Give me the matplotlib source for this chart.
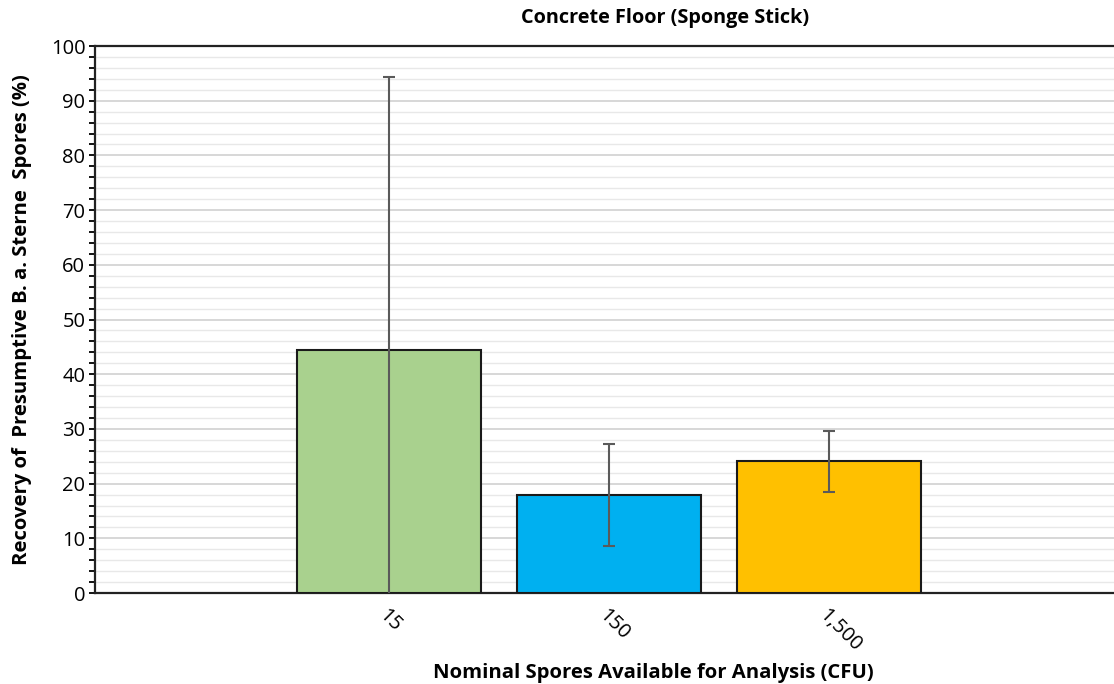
import numpy as np
import matplotlib
matplotlib.use('Agg')
import matplotlib.pyplot as plt
from matplotlib.ticker import MultipleLocator

# values
labels = ['15', '150', '1,500']
recovery = [44.4, 17.9, 24.1]
errors = [49.9, 9.3, 5.6]
colors = ['#A9D18E', '#00B0F0', '#FFC000']

plt.rcParams['font.family'] = ['Open Sans', 'DejaVu Sans']

fig = plt.figure(figsize=(11.14, 6.84), dpi=100)
ax = fig.add_axes([0.0853, 0.133, 0.9147, 0.7997])

x = np.arange(len(labels))
ax.bar(x, recovery, width=0.836, color=colors, edgecolor='#1a1a1a', linewidth=1.5, zorder=3)
ax.errorbar(x, recovery, yerr=errors, fmt='none', ecolor='#5a5a5a', elinewidth=1.5,
            capsize=4, capthick=1.5, zorder=4)

ax.set_ylim(0, 100)
ax.set_xlim(-1.336, 3.295)
ax.yaxis.set_major_locator(MultipleLocator(10))
ax.yaxis.set_minor_locator(MultipleLocator(2))
ax.grid(which='major', axis='y', color='#d4d4d4', linewidth=1.3, zorder=0)
ax.grid(which='minor', axis='y', color='#e8e8e8', linewidth=1.0, zorder=0)
ax.set_axisbelow(True)

ax.set_xticks(x)
ax.set_xticklabels(labels, rotation=-45, ha='left', rotation_mode='anchor', fontsize=14.5)
ax.tick_params(axis='x', length=0, pad=9)
ax.tick_params(axis='y', which='both', direction='out', length=4, width=1.3, labelsize=14.5, pad=3)

for side in ['left', 'bottom', 'top']:
    ax.spines[side].set_linewidth(1.6)
    ax.spines[side].set_color('#222222')
ax.spines['right'].set_visible(False)

fig.text(0.5968, 0.973, 'Concrete Floor (Sponge Stick)', fontsize=14.3, fontweight='bold',
         ha='center', va='center')
fig.text(0.5866, 0.016, 'Nominal Spores Available for Analysis (CFU)', fontsize=14.6,
         fontweight='bold', ha='center', va='center')
fig.text(0.0197, 0.532, 'Recovery of  Presumptive B. a. Sterne  Spores (%)', fontsize=14.6,
         fontweight='bold', ha='center', va='center', rotation=90)

fig.savefig('out.png', dpi=100)
